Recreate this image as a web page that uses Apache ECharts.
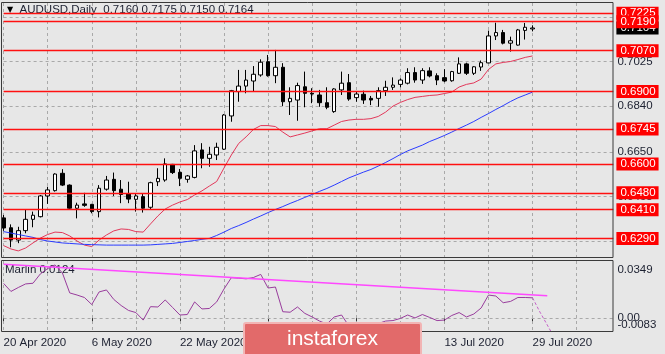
<!DOCTYPE html>
<html>
<head>
<meta charset="utf-8">
<script src="https://cdn.jsdelivr.net/npm/echarts@6.0.0/dist/echarts.min.js"></script>
<style>
  html, body { margin: 0; padding: 0; background: #e7e7e7; }
  #root { width: 665px; height: 354px; }
</style>
</head>
<body>
<div id="root"></div>
<script>
const dates = [
  '20 Apr', '21 Apr', '22 Apr', '23 Apr', '24 Apr', '27 Apr', '28 Apr', '29 Apr', '30 Apr',
  '1 May', '4 May', '5 May', '6 May', '7 May', '8 May', '11 May', '12 May', '13 May', '14 May', '15 May',
  '18 May', '19 May', '20 May', '21 May', '22 May', '25 May', '26 May', '27 May', '28 May', '29 May',
  '1 Jun', '2 Jun', '3 Jun', '4 Jun', '5 Jun', '8 Jun', '9 Jun', '10 Jun', '11 Jun', '12 Jun',
  '15 Jun', '16 Jun', '17 Jun', '18 Jun', '19 Jun', '22 Jun', '23 Jun', '24 Jun', '25 Jun', '26 Jun',
  '29 Jun', '30 Jun', '1 Jul', '2 Jul', '3 Jul', '6 Jul', '7 Jul', '8 Jul', '9 Jul', '10 Jul',
  '13 Jul', '14 Jul', '15 Jul', '16 Jul', '17 Jul', '20 Jul', '21 Jul', '22 Jul', '23 Jul', '24 Jul',
  '27 Jul', '28 Jul', '29 Jul', '30 Jul', '31 Jul', '3 Aug', '4 Aug', '5 Aug', '6 Aug', '7 Aug',
  '10 Aug', '11 Aug', '12 Aug', '13 Aug'
]

// open, close, low, high
const candles = [
  [0.6376, 0.6334, 0.6322, 0.6388], [0.6335, 0.6284, 0.6254, 0.6349], [0.6284, 0.6323, 0.6271, 0.6339],
  [0.6323, 0.6370, 0.6312, 0.6412], [0.6370, 0.6387, 0.6337, 0.6402], [0.6381, 0.6467, 0.6378, 0.6471],
  [0.6467, 0.6492, 0.6434, 0.6505], [0.6489, 0.6558, 0.6485, 0.6561], [0.6561, 0.6512, 0.6508, 0.6578],
  [0.6512, 0.6416, 0.6412, 0.6515], [0.6416, 0.6429, 0.6374, 0.6439], [0.6434, 0.6428, 0.6422, 0.6480],
  [0.6432, 0.6402, 0.6395, 0.6434], [0.6402, 0.6499, 0.6378, 0.6512], [0.6495, 0.6533, 0.6489, 0.6550],
  [0.6536, 0.6489, 0.6467, 0.6564], [0.6495, 0.6473, 0.6437, 0.6533], [0.6475, 0.6454, 0.6437, 0.6526],
  [0.6453, 0.6467, 0.6402, 0.6478], [0.6464, 0.6416, 0.6398, 0.6475], [0.6420, 0.6522, 0.6412, 0.6526],
  [0.6526, 0.6540, 0.6508, 0.6582], [0.6533, 0.6600, 0.6526, 0.6623], [0.6598, 0.6564, 0.6558, 0.6600],
  [0.6565, 0.6540, 0.6508, 0.6579], [0.6536, 0.6550, 0.6522, 0.6554], [0.6544, 0.6654, 0.6540, 0.6678],
  [0.6658, 0.6623, 0.6582, 0.6686], [0.6623, 0.6640, 0.6588, 0.6671], [0.6637, 0.6669, 0.6616, 0.6688],
  [0.6661, 0.6803, 0.6658, 0.6807], [0.6799, 0.6904, 0.6775, 0.6907], [0.6900, 0.6923, 0.6858, 0.6990],
  [0.6923, 0.6948, 0.6893, 0.6990], [0.6944, 0.6972, 0.6900, 0.7006], [0.6969, 0.7022, 0.6962, 0.7034],
  [0.7024, 0.6966, 0.6962, 0.7052], [0.6966, 0.7001, 0.6935, 0.7073], [0.7001, 0.6858, 0.6840, 0.7018],
  [0.6858, 0.6872, 0.6803, 0.6918], [0.6865, 0.6925, 0.6779, 0.6937], [0.6920, 0.6893, 0.6835, 0.6983],
  [0.6893, 0.6890, 0.6852, 0.6914], [0.6886, 0.6854, 0.6837, 0.6907], [0.6854, 0.6835, 0.6827, 0.6918],
  [0.6817, 0.6911, 0.6812, 0.6914], [0.6907, 0.6935, 0.6886, 0.6983], [0.6937, 0.6869, 0.6862, 0.6973],
  [0.6875, 0.6890, 0.6858, 0.6900], [0.6889, 0.6865, 0.6849, 0.6904], [0.6872, 0.6865, 0.6844, 0.6882],
  [0.6872, 0.6904, 0.6837, 0.6918], [0.6904, 0.6918, 0.6882, 0.6945], [0.6918, 0.6927, 0.6907, 0.6959],
  [0.6930, 0.6948, 0.6918, 0.6955], [0.6935, 0.6979, 0.6930, 0.6997], [0.6979, 0.6948, 0.6937, 0.7001],
  [0.6948, 0.6987, 0.6932, 0.6997], [0.6986, 0.6965, 0.6959, 0.7001], [0.6966, 0.6948, 0.6927, 0.6976],
  [0.6958, 0.6944, 0.6939, 0.6993], [0.6945, 0.6983, 0.6941, 0.6986], [0.6976, 0.7015, 0.6973, 0.7042],
  [0.7015, 0.6976, 0.6969, 0.7020], [0.6976, 0.7003, 0.6969, 0.7006], [0.7002, 0.7020, 0.6986, 0.7029],
  [0.7019, 0.7131, 0.7018, 0.7153], [0.7131, 0.7145, 0.7114, 0.7186], [0.7145, 0.7101, 0.7096, 0.7156],
  [0.7101, 0.7111, 0.7066, 0.7128], [0.7093, 0.7156, 0.7091, 0.7160], [0.7154, 0.7167, 0.7116, 0.7185],
  [0.7160, 0.7164, 0.7150, 0.7175]
]

const maFast = [
  0.6261, 0.6247, 0.6239, 0.6251, 0.6272, 0.6292, 0.6307, 0.6317, 0.6315, 0.6301,
  0.6280, 0.6263, 0.6257, 0.6284, 0.6305, 0.6322, 0.6330, 0.6328, 0.6319, 0.6317,
  0.6351, 0.6384, 0.6413, 0.6429, 0.6442, 0.6452, 0.6471, 0.6488, 0.6508, 0.6527,
  0.6583, 0.6637, 0.6685, 0.6712, 0.6743, 0.6759, 0.6759, 0.6755, 0.6732, 0.6712,
  0.6720, 0.6728, 0.6737, 0.6746, 0.6746, 0.6761, 0.6776, 0.6782, 0.6785, 0.6785,
  0.6788, 0.6797, 0.6815, 0.6840, 0.6855, 0.6867, 0.6876, 0.6880, 0.6884, 0.6886,
  0.6892, 0.6898, 0.6919, 0.6930, 0.6936, 0.6952, 0.6992, 0.7015, 0.7021, 0.7025,
  0.7033, 0.7042, 0.7048
]

const maSlow = [
  0.6319, 0.6313, 0.6307, 0.6301, 0.6295, 0.6286, 0.6280, 0.6276, 0.6272, 0.6270,
  0.6268, 0.6266, 0.6265, 0.6264, 0.6263, 0.6263, 0.6263, 0.6263, 0.6263, 0.6263,
  0.6264, 0.6266, 0.6268, 0.6270, 0.6274, 0.6278, 0.6282, 0.6287, 0.6291, 0.6303,
  0.6317, 0.6332, 0.6344, 0.6357, 0.6371, 0.6384, 0.6398, 0.6411, 0.6423, 0.6436,
  0.6448, 0.6461, 0.6473, 0.6486, 0.6498, 0.6512, 0.6527, 0.6542, 0.6554, 0.6566,
  0.6577, 0.6591, 0.6606, 0.6622, 0.6639, 0.6654, 0.6666, 0.6678, 0.6693, 0.6705,
  0.6718, 0.6732, 0.6747, 0.6761, 0.6776, 0.6793, 0.6809, 0.6826, 0.6842, 0.6859,
  0.6874, 0.6886, 0.6898
]

const marlin = [
  0.0212, 0.0163, 0.0187, 0.0209, 0.0213, 0.0270, 0.0303, 0.0325, 0.0276, 0.0154,
  0.0141, 0.0126, 0.0083, 0.0160, 0.0172, 0.0114, 0.0077, 0.0047, 0.0034, -0.0012,
  0.0070, 0.0068, 0.0111, 0.0065, 0.0019, 0.0022, 0.0099, 0.0056, 0.0059, 0.0099,
  0.0178, 0.0247, 0.0244, 0.0240, 0.0248, 0.0267, 0.0184, 0.0190, 0.0039, 0.0036,
  0.0068, 0.0029, 0.0007, -0.0018, -0.0036, 0.0007, 0.0019, -0.0048, -0.0082, -0.0073,
  -0.0054, -0.0033, -0.0018, -0.0015, -0.0002, 0.0019, 0.0001, 0.0022, 0.0004, -0.0015,
  -0.0012, 0.0016, 0.0034, 0.0007, 0.0025, 0.0062, 0.0141, 0.0135, 0.0094, 0.0102,
  0.0126, 0.0126, 0.0124
]
// dashed continuation of the oscillator, [bar index, value]
const marlinTail = [[72, 0.0124], [73, 0.0037], [74, -0.0042], [75, -0.0122]]
// trend line on the oscillator
const marlinTrend = [[0, 0.0329], [74, 0.0137]]

const levels = [0.7225, 0.7190, 0.7070, 0.6900, 0.6745, 0.6600, 0.6480, 0.6410, 0.6290]
const priceTicks = [0.7210, 0.7025, 0.6840, 0.6650, 0.6465, 0.6280]
const marlinRange = [-0.0083, 0.0349]

const font = 'Liberation Sans'
const fmt = v => v.toFixed(4)
const last = candles[candles.length - 1]
const textColor = '#1c2030'

const chart = echarts.init(document.getElementById('root'))

const option = {
  backgroundColor: '#e7e7e7',
  animation: false,
  title: [
    {
      text: '{tri|▼}  AUDUSD,Daily  ' + [last[0], last[3], last[2], last[1]].map(fmt).join(' '),
      left: 7,
      top: 4,
      padding: 0,
      z: 0,
      textStyle: {
        fontFamily: font,
        fontSize: 11.5,
        fontWeight: 'normal',
        color: textColor,
        rich: { tri: { fontSize: 8, color: '#000', fontFamily: 'DejaVu Sans' } }
      }
    },
    {
      text: 'Marlin ' + fmt(marlin[marlin.length - 1]),
      left: 5,
      top: 264,
      padding: 0,
      z: 0,
      textStyle: { fontFamily: font, fontSize: 11.5, fontWeight: 'normal', color: textColor }
    }
  ],
  grid: [
    { left: 3.6, width: 609.8, top: 3, height: 255 },
    { left: 3.6, width: 609.8, top: 261, height: 70.7 }
  ],
  xAxis: [
    {
      type: 'category',
      gridIndex: 0,
      data: dates,
      boundaryGap: false,
      axisLine: { show: false },
      axisTick: { show: false },
      axisLabel: { show: false },
      splitLine: {
        show: true,
        interval: i => i % 6 === 0,
        lineStyle: { color: '#a9a9a9', type: [3, 3], width: 1 }
      }
    },
    {
      type: 'category',
      gridIndex: 1,
      data: dates,
      boundaryGap: false,
      axisLine: { show: false },
      axisTick: {
        show: true,
        interval: i => i % 12 === 0,
        length: 3,
        lineStyle: { color: '#333' }
      },
      axisLabel: {
        interval: i => i % 12 === 0,
        align: 'left',
        margin: 5,
        formatter: v => v + ' 2020',
        color: textColor,
        fontFamily: font,
        fontSize: 11.5
      },
      splitLine: {
        show: true,
        interval: i => i % 6 === 0,
        lineStyle: { color: '#a9a9a9', type: [3, 3], width: 1 }
      }
    }
  ],
  yAxis: [
    {
      type: 'value',
      gridIndex: 0,
      position: 'right',
      min: 0.62095,
      max: 0.72677,
      axisLine: { show: false },
      axisTick: { show: false },
      axisLabel: { show: false },
      splitLine: { show: false }
    },
    {
      type: 'value',
      gridIndex: 1,
      position: 'right',
      min: marlinRange[0],
      max: marlinRange[1],
      interval: marlinRange[1] - marlinRange[0],
      axisLine: { show: false },
      axisTick: { show: false },
      splitLine: { show: false },
      axisLabel: {
        margin: 4,
        color: textColor,
        fontFamily: font,
        fontSize: 11.5,
        formatter: v => (v > 0 ? '{t|' : '{b|') + fmt(v) + '}',
        rich: {
          t: { padding: [18, 0, 0, 0], fontFamily: font, fontSize: 11.5, color: textColor },
          b: { padding: [0, 0, 14, 0], fontFamily: font, fontSize: 11.5, color: textColor }
        }
      }
    }
  ],
  series: [
    {
      name: 'grid',
      type: 'line',
      xAxisIndex: 0,
      yAxisIndex: 0,
      data: [],
      markLine: {
        z: 1,
        precision: 4,
        silent: true,
        symbol: 'none',
        animation: false,
        lineStyle: { color: '#a9a9a9', type: [3, 3], width: 1 },
        label: {
          position: 'end',
          distance: 4,
          color: textColor,
          fontFamily: font,
          fontSize: 11.5,
          formatter: p => fmt(p.value)
        },
        data: priceTicks.map(v => ({ yAxis: v }))
      }
    },
    {
      name: 'AUDUSD',
      type: 'candlestick',
      xAxisIndex: 0,
      yAxisIndex: 0,
      data: candles,
      barWidth: 4,
      clip: false,
      z: 2,
      itemStyle: {
        color: '#ffffff',
        color0: '#000000',
        borderColor: '#000000',
        borderColor0: '#000000',
        borderColorDoji: '#000000',
        borderWidth: 1
      }
    },
    {
      name: 'MA fast',
      type: 'line',
      xAxisIndex: 0,
      yAxisIndex: 0,
      data: maFast,
      symbol: 'none',
      z: 3,
      lineStyle: { color: '#e2385a', width: 1 }
    },
    {
      name: 'MA slow',
      type: 'line',
      xAxisIndex: 0,
      yAxisIndex: 0,
      data: maSlow,
      symbol: 'none',
      z: 3,
      lineStyle: { color: '#2b3cff', width: 1 }
    },
    {
      name: 'bid',
      type: 'line',
      xAxisIndex: 0,
      yAxisIndex: 0,
      data: [],
      markLine: {
        z: 4,
        precision: 4,
        silent: true,
        symbol: 'none',
        animation: false,
        lineStyle: { color: 'rgba(0,0,0,0)', width: 1 },
        label: {
          position: 'end',
          distance: 3,
          color: '#ffffff',
          backgroundColor: '#000000',
          padding: [1, 3, 0, 4],
          fontFamily: font,
          fontSize: 11.5,
          formatter: p => fmt(p.value)
        },
        data: [{ yAxis: last[1] }]
      }
    },
    {
      name: 'levels',
      type: 'line',
      xAxisIndex: 0,
      yAxisIndex: 0,
      data: [],
      markLine: {
        z: 5,
        precision: 4,
        silent: true,
        symbol: 'none',
        animation: false,
        lineStyle: { color: '#ff1010', type: 'solid', width: 1.3 },
        label: {
          position: 'end',
          distance: 3,
          color: '#ffffff',
          backgroundColor: '#ff0000',
          padding: [1, 3, 0, 4],
          fontFamily: font,
          fontSize: 11.5,
          formatter: p => fmt(p.value)
        },
        data: levels.map(v => ({ yAxis: v }))
      }
    },
    {
      name: 'Marlin',
      type: 'line',
      xAxisIndex: 1,
      yAxisIndex: 1,
      data: marlin,
      symbol: 'none',
      z: 3,
      lineStyle: { color: '#983c9c', width: 1 },
      markLine: {
        z: 1,
        precision: 4,
        silent: true,
        symbol: 'none',
        animation: false,
        lineStyle: { color: '#a9a9a9', type: [3, 3], width: 1 },
        label: {
          position: 'end',
          distance: 4,
          color: textColor,
          fontFamily: font,
          fontSize: 11.5,
          formatter: '0.00'
        },
        data: [{ yAxis: 0 }]
      }
    },
    {
      name: 'Marlin tail',
      type: 'line',
      xAxisIndex: 1,
      yAxisIndex: 1,
      data: marlinTail,
      symbol: 'none',
      z: 3,
      lineStyle: { color: '#c462c8', width: 1, type: [3, 2] }
    },
    {
      name: 'trend',
      type: 'line',
      xAxisIndex: 1,
      yAxisIndex: 1,
      data: marlinTrend,
      symbol: 'none',
      z: 4,
      lineStyle: { color: '#ff48ff', width: 1.5 }
    }
  ],
  graphic: [
    {
      type: 'rect',
      silent: true,
      z: 20,
      shape: { x: 1.5, y: 2.5, width: 611.5, height: 255 },
      style: { fill: 'none', stroke: '#3a3a3a', lineWidth: 1 }
    },
    {
      type: 'rect',
      silent: true,
      z: 20,
      shape: { x: 1.5, y: 260.5, width: 611.5, height: 71 },
      style: { fill: 'none', stroke: '#3a3a3a', lineWidth: 1 }
    },
    {
      type: 'rect',
      silent: true,
      z: 30,
      shape: { x: 244, y: 323, width: 177, height: 40, r: 2 },
      style: { fill: '#e26a6a', stroke: '#f2b4b4', lineWidth: 2 }
    },
    {
      type: 'text',
      silent: true,
      z: 31,
      x: 332.5,
      y: 339,
      style: {
        text: 'instaforex',
        fill: '#ffffff',
        font: '21px "Liberation Sans"',
        align: 'center',
        verticalAlign: 'middle'
      }
    }
  ]
}

chart.setOption(option)
</script>
</body>
</html>
